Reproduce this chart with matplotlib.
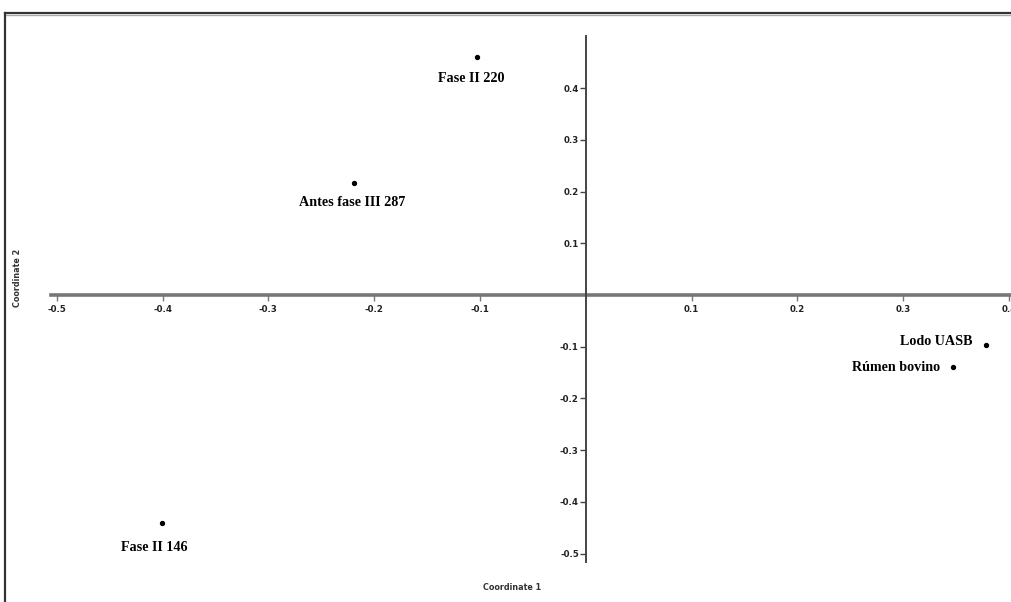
import matplotlib
matplotlib.use("Agg")
import matplotlib.pyplot as plt
from matplotlib.lines import Line2D

# Data
names = ["Fase II 220", "Antes fase III 287", "Lodo UASB", "Rúmen bovino", "Fase II 146"]
coord1 = [-0.103, -0.219, 0.378, 0.347, -0.4005]
coord2 = [0.460, 0.217, -0.097, -0.139, -0.441]
xticks = [-0.5, -0.4, -0.3, -0.2, -0.1, 0.1, 0.2, 0.3, 0.4]
yticks = [-0.5, -0.4, -0.3, -0.2, -0.1, 0.1, 0.2, 0.3, 0.4]

# label placement (pixels offsets, alignment)
offsets = [(-5, -21, "center"), (-2, -20, "center"), (-13, 4, "right"),
           (-13, -1, "right"), (-8, -25, "center")]

W, H = 1011, 602
fig = plt.figure(figsize=(W / 100, H / 100), dpi=100)
ax = fig.add_axes([0, 0, 1, 1])
x0px, sx = 585.7, 1058.0
y0px, sy = 295.0, 517.0
ax.set_xlim(-x0px / sx, (W - x0px) / sx)
ax.set_ylim((y0px - H) / sy, y0px / sy)
ax.patch.set_alpha(0)

for s in ["top", "right"]:
    ax.spines[s].set_visible(False)
ax.spines["bottom"].set_position(("data", 0))
ax.spines["left"].set_position(("data", 0))
ax.spines["bottom"].set_bounds(-0.505, 0.42)
ax.spines["left"].set_bounds(-0.517, 0.5)
ax.spines["bottom"].set_linewidth(2.6)
ax.spines["bottom"].set_color("#777777")
ax.spines["left"].set_linewidth(1.4)
ax.spines["left"].set_color("#444444")
ax.spines["bottom"].set_zorder(1)
ax.spines["left"].set_zorder(2)

ax.set_xticks(xticks)
ax.set_xticklabels([f"{v:.1f}" for v in xticks])
ax.set_yticks(yticks)
ax.set_yticklabels([f"{v:.1f}" for v in yticks])
ax.tick_params(axis="x", direction="out", length=4, width=1, color="#777777",
               labelsize=6.2, pad=3)
ax.tick_params(axis="y", direction="out", length=4, width=1, color="#444444",
               labelsize=6.2, pad=1)
for lab in ax.get_xticklabels() + ax.get_yticklabels():
    lab.set_fontweight("bold")
    lab.set_color("#222222")

ax.scatter(coord1, coord2, s=8, color="black", zorder=5)
for n, x, y, (dx, dy, ha) in zip(names, coord1, coord2, offsets):
    ax.annotate(n, (x, y), xytext=(dx, dy), textcoords="offset pixels",
                ha=ha, va="center", fontsize=10.2, fontweight="bold",
                family="Liberation Serif", color="black")

fig.text(512 / W, 1 - 588 / H, "Coordinate 1", ha="center", va="center",
         fontsize=5.8, fontweight="bold", color="#333333")
fig.text(17 / W, 1 - 278 / H, "Coordinate 2", ha="center", va="center",
         rotation=90, fontsize=5.8, fontweight="bold", color="#333333")

# outer frame
fig.add_artist(Line2D([5 / W, 1.0], [1 - 13 / H, 1 - 13 / H], color="#333333",
                      lw=1.6, transform=fig.transFigure))
fig.add_artist(Line2D([5 / W, 1.0], [1 - 15 / H, 1 - 15 / H], color="#aaaaaa",
                      lw=1.0, transform=fig.transFigure))
fig.add_artist(Line2D([5 / W, 5 / W], [1 - 13 / H, 0], color="#333333",
                      lw=1.6, transform=fig.transFigure))

fig.savefig("out.png", dpi=100)
